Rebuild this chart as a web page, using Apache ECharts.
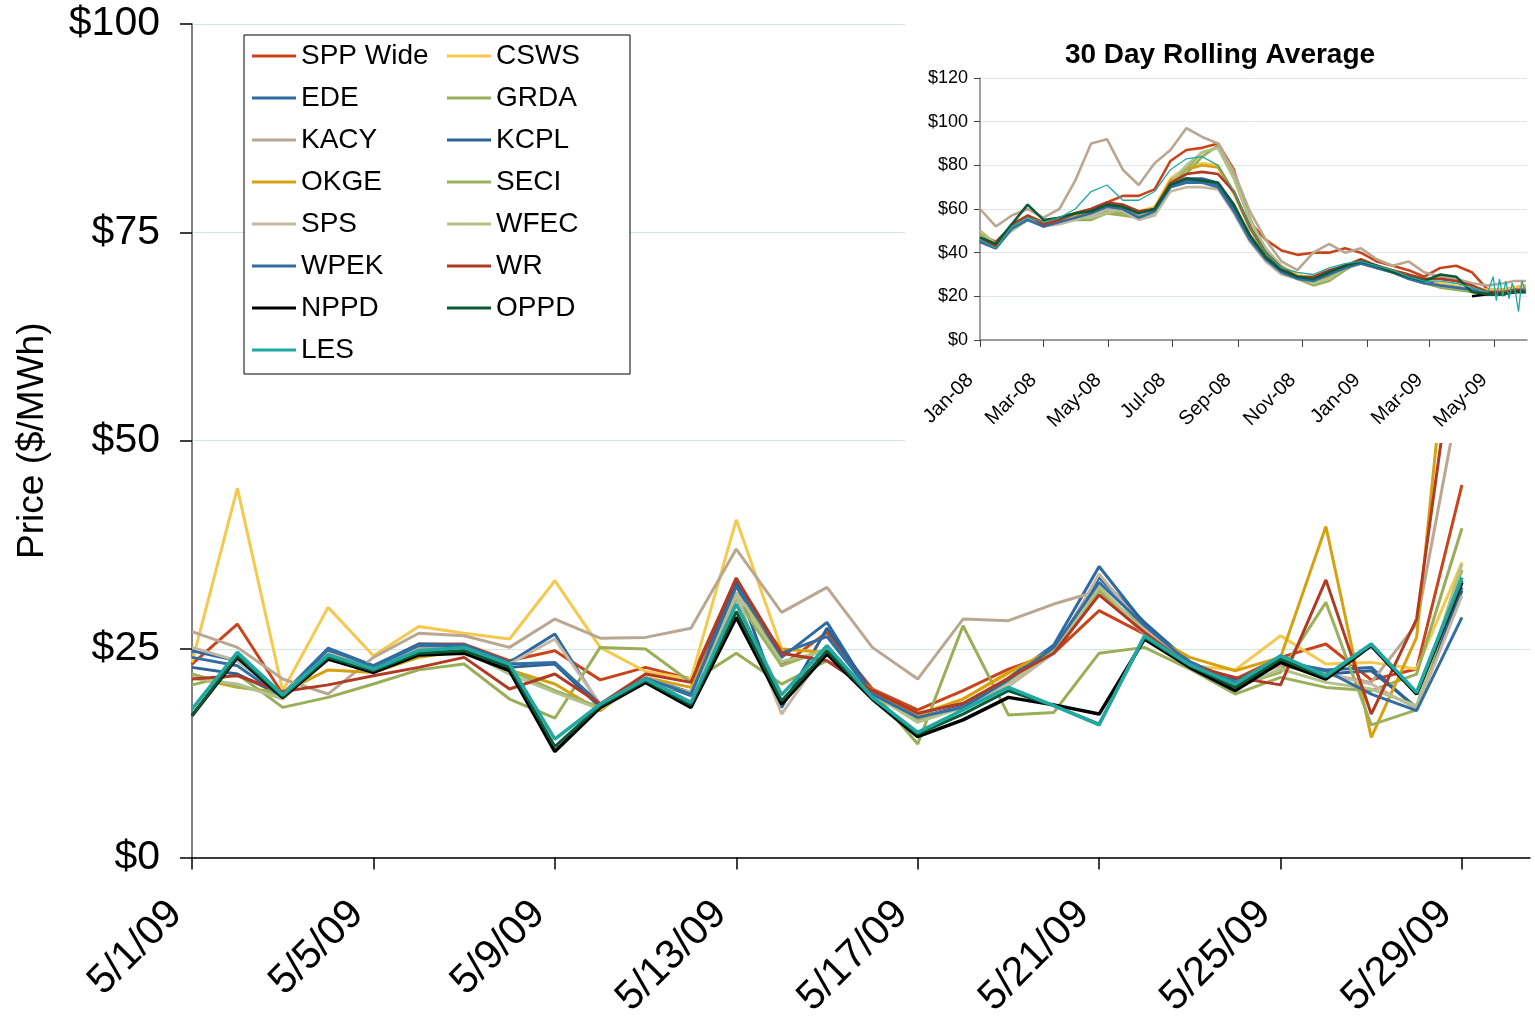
<!DOCTYPE html>
<html>
<head>
<meta charset="utf-8">
<title>SPP daily prices, May 2009</title>
<script src="https://cdn.jsdelivr.net/npm/echarts@6/dist/echarts.min.js"></script>
<style>
  html, body { margin: 0; padding: 0; background: #fff; }
  #wrap { position: relative; width: 1535px; height: 1021px; }
  #main { position: absolute; left: 0; top: 0; width: 1535px; height: 1021px; }
  #inset { position: absolute; left: 905px; top: 0; width: 630px; height: 443px; background: #fff; }
</style>
</head>
<body>
<div id="wrap">
  <div id="main"></div>
  <div id="inset"></div>
</div>
<script>
const FONT = "'Liberation Sans', Arial, sans-serif";

// ---- main chart: daily prices 5/1/09 - 5/29/09 ($/MWh)
const dates = ['5/1/09', '5/2/09', '5/3/09', '5/4/09', '5/5/09', '5/6/09', '5/7/09', '5/8/09', '5/9/09', '5/10/09',
  '5/11/09', '5/12/09', '5/13/09', '5/14/09', '5/15/09', '5/16/09', '5/17/09', '5/18/09', '5/19/09', '5/20/09',
  '5/21/09', '5/22/09', '5/23/09', '5/24/09', '5/25/09', '5/26/09', '5/27/09', '5/28/09', '5/29/09'];
const dateTicks = [0, 4, 8, 12, 16, 20, 24, 28];

const sppWide = [23.2, 28.0, 19.6, 24.8, 22.8, 25.6, 25.6, 23.6, 24.8, 21.3, 22.8, 21.4, 33.5, 23.0, 27.0, 20.2, 17.7, 20.0, 22.6, 24.5, 29.6, 26.8, 23.2, 21.4, 24.0, 25.6, 21.3, 22.6, 44.7];
const csws    = [23.4, 44.3, 20.0, 30.0, 24.2, 27.7, 26.9, 26.2, 33.2, 25.2, 22.3, 21.4, 40.5, 25.0, 24.6, 20.0, 17.2, 19.0, 22.0, 25.0, 32.0, 27.0, 23.0, 22.5, 26.6, 23.2, 23.4, 22.6, 35.4];
const ede     = [24.8, 23.6, 19.6, 25.1, 23.0, 25.6, 25.5, 23.4, 26.8, 18.2, 21.5, 19.8, 33.2, 24.0, 28.2, 19.5, 16.6, 18.0, 21.5, 25.5, 34.9, 28.0, 23.5, 21.0, 23.5, 22.5, 22.8, 17.8, 32.4];
const grda    = [20.7, 22.0, 18.0, 19.2, 20.8, 22.5, 23.2, 19.0, 16.7, 25.2, 25.0, 21.0, 24.5, 20.8, 23.6, 20.0, 13.6, 27.8, 17.1, 17.4, 24.5, 25.2, 22.6, 19.6, 21.6, 20.4, 20.0, 22.0, 39.5];
const kacy    = [27.1, 25.2, 21.4, 19.6, 24.0, 26.9, 26.6, 25.2, 28.6, 26.3, 26.4, 27.5, 37.0, 29.4, 32.4, 25.2, 21.4, 28.6, 28.4, 30.4, 32.0, 26.8, 23.0, 21.0, 23.0, 22.0, 21.0, 28.0, 57.0];
const kcpl    = [22.8, 22.0, 19.4, 24.8, 22.8, 25.2, 25.3, 22.8, 23.2, 18.0, 21.4, 19.4, 33.0, 18.0, 27.5, 19.8, 16.8, 18.2, 21.2, 24.8, 33.6, 28.2, 23.4, 21.2, 23.6, 22.0, 22.4, 18.0, 32.0];
const okge    = [21.6, 20.4, 19.8, 22.5, 22.2, 24.0, 24.8, 22.5, 20.8, 17.6, 21.6, 20.4, 31.5, 25.0, 24.6, 20.0, 17.0, 19.0, 22.2, 25.0, 32.1, 27.0, 24.0, 22.4, 24.0, 39.7, 14.4, 26.4, 80.0];
const seci    = [22.0, 20.5, 19.5, 24.2, 22.5, 25.0, 25.0, 22.5, 20.0, 18.0, 21.2, 19.8, 31.0, 23.0, 25.0, 19.5, 16.5, 18.0, 21.0, 24.8, 32.0, 27.5, 23.0, 20.5, 22.2, 30.6, 15.9, 17.7, 34.5];
const sps     = [25.2, 23.6, 19.6, 24.5, 22.8, 25.3, 25.3, 23.2, 26.2, 18.4, 21.6, 19.6, 31.5, 17.2, 25.0, 19.5, 16.8, 18.0, 20.5, 24.5, 34.0, 27.5, 23.3, 21.0, 23.5, 22.0, 20.8, 17.8, 31.4];
const wfec    = [21.5, 20.8, 19.0, 23.8, 22.5, 24.8, 24.8, 22.0, 19.8, 17.8, 21.0, 19.8, 31.8, 23.5, 24.8, 19.6, 16.2, 18.0, 21.0, 24.6, 32.5, 27.0, 22.8, 20.3, 22.6, 21.0, 20.2, 18.2, 35.2];
const wpek    = [24.0, 23.0, 19.2, 25.0, 22.9, 25.4, 25.4, 23.2, 23.4, 18.4, 21.5, 19.6, 32.5, 24.5, 26.5, 19.6, 16.8, 18.0, 21.3, 25.2, 33.0, 27.8, 23.3, 21.0, 23.4, 22.4, 19.6, 17.6, 28.8];
const wr      = [21.4, 21.8, 19.9, 20.7, 21.8, 22.8, 24.0, 20.2, 22.0, 18.4, 22.0, 21.0, 33.5, 24.5, 23.6, 20.0, 17.3, 18.5, 21.5, 24.5, 31.5, 27.0, 23.0, 21.6, 20.7, 33.3, 17.2, 28.6, 68.0];
const nppd    = [17.0, 24.0, 19.2, 23.8, 22.2, 24.3, 24.5, 22.4, 12.7, 18.0, 21.0, 18.0, 28.8, 18.4, 24.4, 19.0, 14.5, 16.5, 19.2, 18.3, 17.2, 26.2, 22.8, 20.0, 23.4, 21.4, 25.4, 19.6, 33.0];
const oppd    = [17.0, 24.2, 19.3, 24.0, 22.4, 24.5, 24.8, 22.8, 13.3, 18.2, 21.2, 18.3, 29.5, 18.8, 24.8, 19.1, 14.8, 17.2, 20.0, 18.2, 16.0, 26.4, 23.0, 20.4, 23.8, 21.6, 25.5, 19.7, 33.2];
const les     = [17.8, 24.6, 19.5, 24.3, 22.6, 24.8, 25.2, 23.2, 14.2, 18.4, 21.4, 18.6, 30.4, 19.5, 25.4, 19.2, 15.0, 17.7, 20.4, 18.2, 15.9, 26.6, 23.1, 20.8, 24.2, 21.8, 25.6, 19.8, 33.6];

// ---- inset: 30 day rolling average, days counted from 1 Jan 2008
const rollDays = [0, 15, 30, 45, 60, 75, 90, 105, 120, 135, 150, 165, 180, 195, 210, 225, 240, 255, 270, 285,
  300, 315, 330, 345, 360, 375, 390, 405, 420, 435, 450, 465, 480, 495, 505, 516];
const rollTickDays = [0, 60, 121, 182, 244, 305, 366, 425, 486];
const rollTickLabels = ['Jan-08', 'Mar-08', 'May-08', 'Jul-08', 'Sep-08', 'Nov-08', 'Jan-09', 'Mar-09', 'May-09'];

const rollSppWide = [48, 45, 52, 57, 54, 56, 58, 60, 63, 66, 66, 69, 82, 87, 88, 90, 78, 54, 46, 41, 39, 40, 40, 42, 40, 36, 34, 32, 29, 33, 34, 31, 23, 23, 24, 25];
const rollCsws    = [48, 44, 52, 56, 53, 55, 58, 59, 62, 62, 59, 61, 74, 79, 81, 80, 68, 52, 40, 34, 30, 28, 30, 34, 36, 34, 32, 30, 27, 26, 25, 24, 23, 23, 24, 25];
const rollEde     = [45, 42, 51, 55, 53, 54, 57, 58, 61, 60, 57, 59, 70, 73, 73, 71, 60, 47, 37, 31, 29, 27, 30, 34, 36, 33, 31, 29, 27, 25, 24, 23, 22, 22, 22, 23];
const rollGrda    = [49, 43, 51, 55, 53, 55, 55, 55, 58, 57, 56, 57, 70, 76, 84, 89, 76, 56, 41, 32, 28, 25, 27, 32, 36, 33, 31, 28, 26, 24, 23, 22, 21, 21, 22, 23];
const rollKacy    = [60, 52, 57, 60, 56, 60, 73, 90, 92, 78, 71, 81, 87, 97, 93, 90, 77, 59, 46, 36, 32, 40, 44, 40, 42, 37, 34, 36, 31, 29, 28, 26, 25, 26, 27, 27];
const rollKcpl    = [46, 43, 52, 56, 52, 54, 57, 59, 62, 61, 57, 60, 71, 74, 74, 72, 61, 48, 38, 32, 29, 28, 31, 34, 36, 34, 31, 29, 26, 25, 24, 23, 22, 22, 22, 23];
const rollOkge    = [47, 43, 52, 56, 53, 55, 57, 58, 61, 61, 58, 60, 73, 78, 80, 79, 67, 51, 39, 33, 29, 27, 29, 33, 35, 33, 31, 29, 26, 25, 24, 23, 22, 22, 23, 24];
const rollSeci    = [50, 44, 51, 56, 53, 55, 56, 56, 59, 58, 57, 58, 71, 78, 86, 88, 74, 55, 42, 33, 28, 26, 28, 33, 36, 34, 31, 29, 26, 25, 24, 23, 22, 22, 22, 23];
const rollSps     = [47, 43, 51, 55, 52, 53, 55, 57, 60, 59, 55, 57, 68, 70, 70, 69, 58, 45, 36, 30, 28, 27, 30, 33, 35, 33, 31, 28, 26, 25, 24, 23, 22, 22, 23, 24];
const rollWfec    = [50, 44, 50, 55, 53, 55, 56, 56, 58, 60, 58, 58, 72, 80, 86, 88, 74, 55, 42, 34, 29, 26, 28, 33, 36, 34, 31, 29, 26, 25, 24, 23, 22, 22, 22, 23];
const rollWpek    = [45, 42, 51, 55, 52, 54, 56, 58, 61, 60, 56, 59, 70, 72, 72, 70, 59, 46, 37, 31, 28, 27, 30, 33, 35, 33, 31, 28, 26, 25, 24, 23, 21, 21, 22, 22];
const rollWr      = [46, 43, 53, 57, 53, 55, 58, 60, 63, 62, 59, 60, 72, 76, 77, 76, 68, 52, 40, 33, 29, 29, 32, 34, 37, 34, 32, 30, 28, 28, 27, 25, 22, 22, 23, 23];
const rollNppd    = [null, null, null, null, null, null, null, null, null, null, null, null, null, null, null, null, null, null, null, null,
  null, null, null, null, null, null, null, null, null, null, null, 20, 21, 21, 22, 22];
const rollOppd    = [47, 44, 53, 62, 55, 56, 58, 59, 62, 61, 58, 60, 71, 74, 73, 72, 62, 48, 38, 32, 29, 28, 31, 34, 36, 34, 31, 29, 27, 30, 29, 22, 21, 21, 22, 22];
const rollLes     = [46, 42, 52, 56, 54, 56, 60, 68, 71, 64, 64, 68, 78, 83, 84, 80, 68, 52, 40, 33, 31, 30, 33, 35, 36, 34, 32, 29, 27, 27, 26, 24, 22];
// LES is jumpy at the very end
const lesTailDays = [485, 488, 491, 494, 497, 500, 503, 506, 509, 512, 516];
const lesTailVals = [29, 18, 28, 20, 27, 19, 26, 22, 13, 27, 22];

const regions = [
  { name: 'SPP Wide', color: '#c9441b', daily: sppWide, roll: rollSppWide },
  { name: 'CSWS', color: '#f5c94e', daily: csws, roll: rollCsws },
  { name: 'EDE', color: '#2e6a9f', daily: ede, roll: rollEde },
  { name: 'GRDA', color: '#9aae58', daily: grda, roll: rollGrda },
  { name: 'KACY', color: '#b9a791', daily: kacy, roll: rollKacy },
  { name: 'KCPL', color: '#2c6294', daily: kcpl, roll: rollKcpl },
  { name: 'OKGE', color: '#d6a00f', daily: okge, roll: rollOkge },
  { name: 'SECI', color: '#9db15c', daily: seci, roll: rollSeci },
  { name: 'SPS', color: '#c6b7a3', daily: sps, roll: rollSps },
  { name: 'WFEC', color: '#b3c28a', daily: wfec, roll: rollWfec },
  { name: 'WPEK', color: '#336ea3', daily: wpek, roll: rollWpek },
  { name: 'WR', color: '#b03a24', daily: wr, roll: rollWr },
  { name: 'NPPD', color: '#000000', daily: nppd, roll: rollNppd },
  { name: 'OPPD', color: '#0c5a35', daily: oppd, roll: rollOppd },
  { name: 'LES', color: '#21a8a2', daily: les, roll: rollLes }
];

const mainChart = echarts.init(document.getElementById('main'));
mainChart.setOption({
  backgroundColor: '#fff',
  animation: false,
  textStyle: { fontFamily: FONT },
  grid: { left: 192, right: 5, top: 24, bottom: 160, containLabel: false },
  legend: {
    left: 244, top: 35, width: 380,
    orient: 'horizontal',
    padding: [7, 2, 10, 8],
    itemGap: 14, itemWidth: 44, itemHeight: 3,
    icon: 'rect',
    backgroundColor: '#fff', borderColor: '#000', borderWidth: 1,
    textStyle: { fontFamily: FONT, fontSize: 28, lineHeight: 28, width: 132, overflow: 'none', color: '#000' }
  },
  xAxis: {
    type: 'value', min: 0, max: 29.5,
    axisLine: { lineStyle: { color: '#000', width: 1.5 } },
    axisTick: { customValues: dateTicks, length: 12, lineStyle: { color: '#000', width: 1.5 } },
    axisLabel: {
      customValues: dateTicks,
      formatter: v => dates[v] || '',
      rotate: 45, margin: 34, padding: [0, 23, 0, 0],
      fontSize: 41, color: '#000', fontFamily: FONT
    },
    splitLine: { show: false }
  },
  yAxis: {
    type: 'value', min: 0, max: 100, interval: 25,
    name: 'Price ($/MWh)', nameLocation: 'middle', nameGap: 141,
    nameTextStyle: { fontSize: 37, color: '#000', fontFamily: FONT },
    axisLine: { show: true, lineStyle: { color: '#808080', width: 2 } },
    axisTick: { show: true, length: 12, lineStyle: { color: '#000', width: 1.5 } },
    axisLabel: { formatter: v => '$' + v, margin: 32, padding: [12, 0, 0, 0], fontSize: 41, color: '#000', fontFamily: FONT },
    splitLine: { lineStyle: { color: '#d0e4e8', width: 1 } }
  },
  series: regions.map(r => ({
    name: r.name,
    type: 'line',
    symbol: 'none',
    color: r.color,
    lineStyle: { width: (r.name === 'NPPD' || r.name === 'LES') ? 3.5 : 3, color: r.color },
    data: r.daily.map((v, i) => [i, v])
  }))
});

const insetChart = echarts.init(document.getElementById('inset'));
insetChart.setOption({
  backgroundColor: '#fff',
  animation: false,
  textStyle: { fontFamily: FONT },
  title: {
    text: '30 Day Rolling Average', left: 'center', top: 36,
    textStyle: { fontFamily: FONT, fontSize: 28, fontWeight: 'bold', color: '#000' }
  },
  grid: { left: 75, right: 8, top: 78, bottom: 103, containLabel: false },
  xAxis: {
    type: 'value', min: 0, max: 517,
    axisLine: { lineStyle: { color: '#808080', width: 1.5 } },
    axisTick: { customValues: rollTickDays, length: 7, lineStyle: { color: '#404040' } },
    axisLabel: {
      customValues: rollTickDays,
      formatter: v => rollTickLabels[rollTickDays.indexOf(v)] || '',
      rotate: 45, margin: 27, padding: [0, 14, 0, 0],
      fontSize: 20, color: '#000', fontFamily: FONT
    },
    splitLine: { show: false }
  },
  yAxis: {
    type: 'value', min: 0, max: 120, interval: 20,
    axisLine: { show: true, lineStyle: { color: '#808080', width: 1.5 } },
    axisTick: { show: true, length: 6, lineStyle: { color: '#404040' } },
    axisLabel: { formatter: v => '$' + v, margin: 12, fontSize: 18, color: '#000', fontFamily: FONT },
    splitLine: { lineStyle: { color: '#dfe9eb', width: 1 } }
  },
  series: regions.map(r => {
    let data = r.roll.map((v, i) => [rollDays[i], v]);
    if (r.name === 'LES') data = data.concat(lesTailDays.map((d, i) => [d, lesTailVals[i]]));
    return {
      name: r.name,
      type: 'line',
      symbol: 'none',
      color: r.color,
      lineStyle: { width: r.name === 'LES' ? 1.3 : 2.6, color: r.color },
      data: data
    };
  })
});
</script>
</body>
</html>
